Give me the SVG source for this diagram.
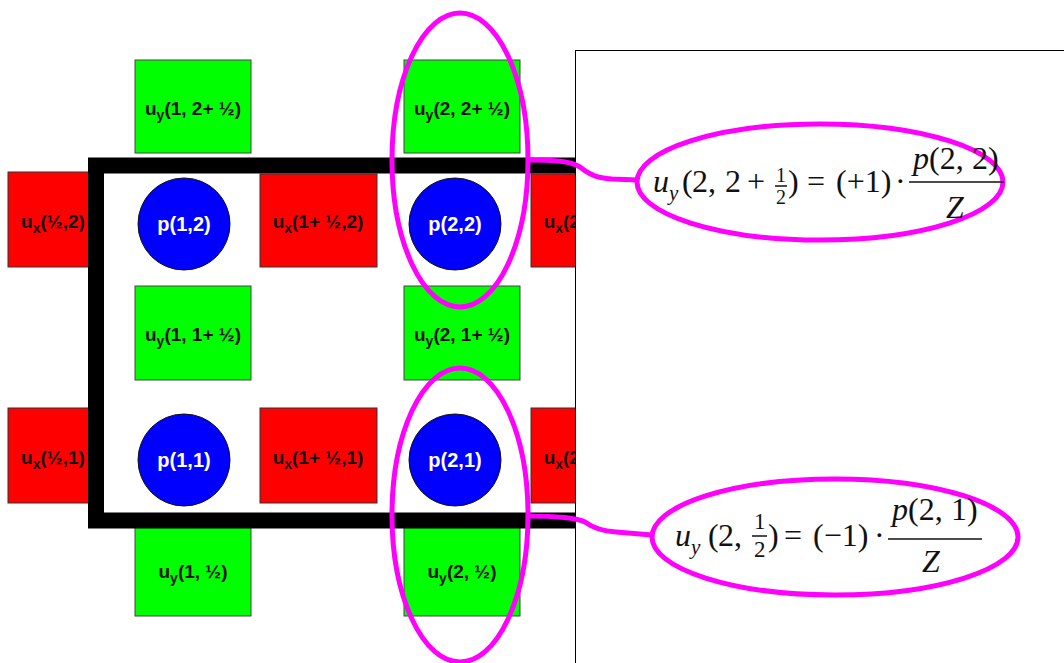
<svg xmlns="http://www.w3.org/2000/svg" width="1064" height="663" viewBox="0 0 1064 663">
<style>
.g{fill:#00ff00;stroke:#444;stroke-width:1}
.r{fill:#ff0000;stroke:#333;stroke-width:1}
.c{fill:#0000ff;stroke:#111;stroke-width:1}
.lb{font-family:"Liberation Sans",Arial,sans-serif;font-weight:bold;font-size:19px;fill:#111;text-anchor:middle}
.pl{font-family:"Liberation Sans",Arial,sans-serif;font-weight:bold;font-size:20px;fill:#fff;text-anchor:middle}
.sub{font-size:14px}
.m{font-family:"Liberation Serif","Times New Roman",serif;font-size:32px;fill:#111}
.m.s21{font-size:21px}
.m.s22{font-size:20px}
.m.s24{font-size:23px}
.it{font-style:italic}
.mg{fill:none;stroke:#ff00ff;stroke-width:5}
.fl{stroke:#111;stroke-width:1.5}
</style>
<rect width="1064" height="663" fill="#fff"/>
<g id="uy_1_2h"><rect class="g" x="135" y="60" width="116" height="93"/><text class="lb" x="193" y="115">u<tspan class="sub" dy="5">y</tspan><tspan dy="-5">(1, 2+ ½)</tspan></text></g>
<g id="uy_2_2h"><rect class="g" x="404" y="60" width="116" height="93"/><text class="lb" x="462" y="115">u<tspan class="sub" dy="5">y</tspan><tspan dy="-5">(2, 2+ ½)</tspan></text></g>
<g id="uy_1_1h"><rect class="g" x="135" y="286" width="116" height="94"/><text class="lb" x="193" y="341">u<tspan class="sub" dy="5">y</tspan><tspan dy="-5">(1, 1+ ½)</tspan></text></g>
<g id="uy_2_1h"><rect class="g" x="404" y="286" width="116" height="94"/><text class="lb" x="462" y="341">u<tspan class="sub" dy="5">y</tspan><tspan dy="-5">(2, 1+ ½)</tspan></text></g>
<g id="uy_1_h"><rect class="g" x="135" y="522" width="116" height="94"/><text class="lb" x="193" y="578">u<tspan class="sub" dy="5">y</tspan><tspan dy="-5">(1, ½)</tspan></text></g>
<g id="uy_2_h"><rect class="g" x="404" y="522" width="116" height="94"/><text class="lb" x="462" y="578">u<tspan class="sub" dy="5">y</tspan><tspan dy="-5">(2, ½)</tspan></text></g>
<g id="ux_h_2"><rect class="r" x="8" y="172" width="90" height="95"/><text class="lb" x="53" y="228">u<tspan class="sub" dy="5">x</tspan><tspan dy="-5">(½,2)</tspan></text></g>
<g id="ux_1h_2"><rect class="r" x="260" y="174" width="117" height="93"/><text class="lb" x="318" y="228">u<tspan class="sub" dy="5">x</tspan><tspan dy="-5">(1+ ½,2)</tspan></text></g>
<g id="ux_2h_2"><rect class="r" x="531" y="174" width="117" height="93"/><text class="lb" x="589" y="228">u<tspan class="sub" dy="5">x</tspan><tspan dy="-5">(2+ ½,2)</tspan></text></g>
<g id="ux_h_1"><rect class="r" x="8" y="408" width="90" height="95"/><text class="lb" x="53" y="464">u<tspan class="sub" dy="5">x</tspan><tspan dy="-5">(½,1)</tspan></text></g>
<g id="ux_1h_1"><rect class="r" x="260" y="408" width="117" height="95"/><text class="lb" x="318" y="464">u<tspan class="sub" dy="5">x</tspan><tspan dy="-5">(1+ ½,1)</tspan></text></g>
<g id="ux_2h_1"><rect class="r" x="531" y="408" width="117" height="95"/><text class="lb" x="589" y="464">u<tspan class="sub" dy="5">x</tspan><tspan dy="-5">(2+ ½,1)</tspan></text></g>
<g id="p_1_2"><circle class="c" cx="184" cy="224" r="46"/><text class="pl" x="184" y="231">p(1,2)</text></g>
<g id="p_2_2"><circle class="c" cx="455" cy="224" r="46"/><text class="pl" x="455" y="231">p(2,2)</text></g>
<g id="p_1_1"><circle class="c" cx="184" cy="460" r="46"/><text class="pl" x="184" y="467">p(1,1)</text></g>
<g id="p_2_1"><circle class="c" cx="455" cy="460" r="46"/><text class="pl" x="455" y="467">p(2,1)</text></g>
<g id="domain"><rect x="96" y="165.5" width="700" height="355" fill="none" stroke="#000" stroke-width="16"/></g>
<g id="panel"><rect x="575.5" y="50.5" width="600" height="700" fill="#fff" stroke="#000" stroke-width="1"/></g>
<g id="connectors">
<path class="mg" d="M527,160 C555,160 570,161 580,167 C590,175 597,178 612,179 L638,180"/>
<path class="mg" d="M527,516 C555,516 575,517 585,522 C593,528 601,531 616,532 L652,535"/>
</g>
<g id="hl_top"><ellipse class="mg" cx="460" cy="160" rx="68" ry="147"/></g>
<g id="hl_bottom"><ellipse class="mg" cx="460" cy="515" rx="68" ry="147"/></g>
<g id="eq_top">
<ellipse class="mg" cx="820" cy="182" rx="183" ry="58"/>
<text class="m it" x="653" y="192">u</text>
<text class="m it s21" x="669" y="200">y</text>
<text class="m" x="682" y="192">(</text>
<text class="m" x="692" y="192">2,</text>
<text class="m" x="725" y="192">2</text>
<text class="m" x="747" y="192">+</text>
<text class="m s22" x="776" y="182">1</text>
<line class="fl" x1="775" y1="186" x2="787" y2="186"/>
<text class="m s22" x="776" y="204">2</text>
<text class="m" x="788" y="192">)</text>
<text class="m" x="807" y="192">=</text>
<text class="m" x="836" y="192">(+1)</text>
<text class="m" x="895" y="192">·</text>
<text class="m it" x="913" y="169">p</text>
<text class="m" x="929" y="169">(2,</text>
<text class="m" x="972" y="169">2)</text>
<line class="fl" x1="909" y1="182" x2="1004" y2="182"/>
<text class="m it" x="946" y="218">Z</text>
</g>
<g id="eq_bottom">
<ellipse class="mg" cx="835" cy="537" rx="183" ry="58"/>
<text class="m it" x="675" y="546">u</text>
<text class="m it s21" x="691" y="554">y</text>
<text class="m" x="708" y="546">(</text>
<text class="m" x="718" y="546">2,</text>
<text class="m s24" x="754" y="529">1</text>
<line class="fl" x1="752" y1="536" x2="767" y2="536"/>
<text class="m s24" x="754" y="557">2</text>
<text class="m" x="768" y="546">)</text>
<text class="m" x="784" y="546">=</text>
<text class="m" x="813" y="546">(−1)</text>
<text class="m" x="874" y="546">·</text>
<text class="m it" x="892" y="520">p</text>
<text class="m" x="908" y="520">(2,</text>
<text class="m" x="951" y="520">1)</text>
<line class="fl" x1="888" y1="539" x2="982" y2="539"/>
<text class="m it" x="922" y="572">Z</text>
</g>
</svg>
